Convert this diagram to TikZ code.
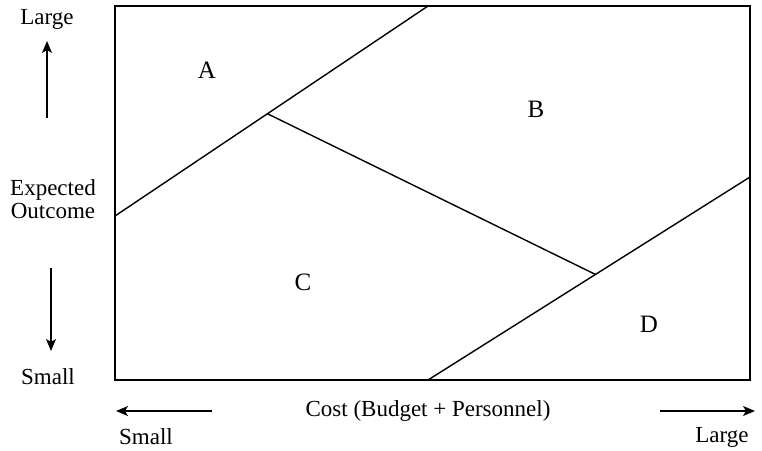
\documentclass[tikz,border=0pt]{standalone}
\usepackage{fontspec}
\setmainfont{Liberation Serif}
\usepackage{xcolor}
\definecolor{cLine}{HTML}{000000}
\usetikzlibrary{positioning,arrows.meta,calc}
\tikzset{
  region-frame/.style={draw=cLine,line width=1.6pt},
  region-cut/.style={draw=cLine,line width=1.4pt},
  region-label/.style={font=\fontsize{25}{27}\selectfont},
  axis-label/.style={font=\fontsize{23}{25}\selectfont,align=center},
  arrow/.style={-{Stealth[length=12pt,width=10pt,inset=3pt]},line width=1.4pt,draw=cLine},
}
\begin{document}
\begin{tikzpicture}[x=1pt,y=-1pt]
  \useasboundingbox (0,0) rectangle (762,450);
  % frame
  \coordinate (sw) at (115,380);
  \coordinate (ne) at (750,6);
  \draw[region-frame] (sw) rectangle (ne);
  % boundaries between regions
  \coordinate (l1a) at (115,216);
  \coordinate (l1b) at (428,6);
  \coordinate (l3a) at (428,380);
  \coordinate (l3b) at (750,177);
  \coordinate (l2a) at ($(l1a)!0.487!(l1b)$);
  \coordinate (l2b) at ($(l3a)!0.52!(l3b)$);
  \draw[region-cut] (l1a) -- (l1b);
  \draw[region-cut] (l3a) -- (l3b);
  \draw[region-cut] (l2a) -- (l2b);
  % regions
  \node[region-label] (regA) at (207,70) {A};
  \node[region-label] (regB) at (536,109) {B};
  \node[region-label] (regC) at (303,282) {C};
  \node[region-label] (regD) at (649,324) {D};
  % vertical axis
  \node[axis-label] (yLarge) at (47,19) {Large};
  \node[axis-label,inner sep=0pt] (yOut) at (53,199) {Expected\\[-2pt]Outcome};
  \node[axis-label] (ySmall) at (48,377) {Small};
  \coordinate (yUpFrom) at (47,118);
  \coordinate (yUpTo) at (47,41);
  \coordinate (yDownFrom) at (51,268);
  \coordinate (yDownTo) at (51,351);
  \draw[arrow] (yUpFrom) -- (yUpTo);
  \draw[arrow] (yDownFrom) -- (yDownTo);
  % horizontal axis
  \node[axis-label] (xCost) at (428,411) {Cost (Budget + Personnel)};
  \node[axis-label] (xSmall) at (146,437) {Small};
  \node[axis-label] (xLarge) at (722,437) {Large};
  \coordinate (xLeftFrom) at (212,411);
  \coordinate (xLeftTo) at (116,411);
  \coordinate (xRightFrom) at (660,411);
  \coordinate (xRightTo) at (755,411);
  \draw[arrow] (xLeftFrom) -- (xLeftTo);
  \draw[arrow] (xRightFrom) -- (xRightTo);
\end{tikzpicture}
\end{document}
